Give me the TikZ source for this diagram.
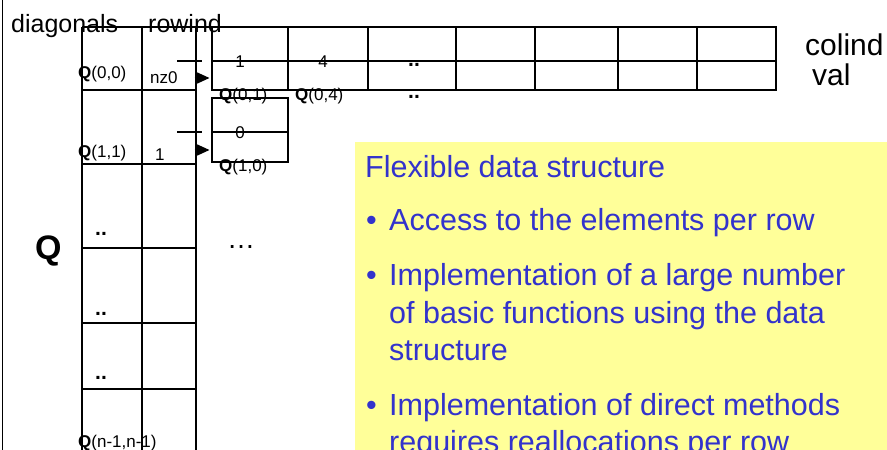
\documentclass[tikz,border=0pt]{standalone}
\usepackage{fontspec}
\setmainfont{Liberation Sans}
\usetikzlibrary{arrows.meta}
\definecolor{boxyellow}{RGB}{255,255,153}
\definecolor{boxblue}{RGB}{51,51,204}
\newcommand{\fsz}[1]{\fontsize{#1}{#1}\selectfont}
\begin{document}
\begin{tikzpicture}[x=1pt,y=-1pt,
  gridline/.style={line width=1.2pt, black},
  lab/.style={inner sep=0pt, anchor=base west},
  clab/.style={inner sep=0pt, anchor=base},
  small/.style={font=\fsz{17}},
  dots/.style={font=\fsz{21}\bfseries},
  head/.style={font=\fsz{25}},
  big/.style={font=\fsz{30}},
  boxtext/.style={inner sep=0pt, anchor=base west, font=\fsz{30.5}, text=boxblue},
  ptr/.style={line width=1.2pt, -{Triangle[length=14pt,width=12.5pt]}}]
\useasboundingbox (0,0) rectangle (887,450);
\clip (0,0) rectangle (887,450);

% yellow text box
\fill[boxyellow] (355,142) rectangle (890,455);

% left border
\draw[gridline] (2.5,-2) -- (2.5,452);

% diagonals / rowind columns
\foreach \x in {82,142,196} \draw[gridline] (\x,27) -- (\x,452);
\draw[gridline] (82,27) -- (776,27);
\foreach \y in {90,164,248,323,389} \draw[gridline] (82,\y) -- (196,\y);

% colind / val table (row 0)
\draw[gridline] (212,27) rectangle (776,90);
\draw[gridline] (212,61) -- (776,61);
\foreach \x in {288,368,456,535,618,697} \draw[gridline] (\x,27) -- (\x,90);

% row 1 box
\draw[gridline] (212,98) rectangle (288,162);
\draw[gridline] (212,132) -- (288,132);

% pointer stubs
\draw[gridline] (177,61) -- (202,61);
\draw[gridline] (177,132) -- (202,132);
\coordinate (p0) at (194.5,78);
\coordinate (b0) at (209.5,78);
\coordinate (p1) at (194.5,150);
\coordinate (b1) at (209.5,150);
\draw[ptr] (p0) -- (b0);
\draw[ptr] (p1) -- (b1);

% headers
\node[lab,head] (hdiag) at (11,32) {diagonals};
\node[lab,head] (hrow) at (148,32) {rowind};
\node[lab,big] (hcol) at (805,55) {colind};
\node[lab,big] (hval) at (812,85) {val};

% diagonal column labels
\node[lab,small] (q00) at (78,78) {\textbf{Q}(0,0)};
\node[lab,small] (nz0) at (150,83) {nz0};
\node[lab,small] (q11) at (78,157) {\textbf{Q}(1,1)};
\node[lab,small] (one) at (155,160) {1};
\node[lab,dots] (d1) at (95,235) {..};
\node[lab,dots] (d2) at (95,315) {..};
\node[lab,dots] (d3) at (95,379) {..};
\node[lab,small] (qnn) at (78,447) {\textbf{Q}(n-1,n-1)};
\node[lab,font=\fsz{34}\bfseries] (bigQ) at (35,259) {Q};
\node[clab,font=\fsz{28}] (ell) at (241,248) {…};

% row 0 entries
\node[clab,small] (c1) at (240,67) {1};
\node[clab,small] (c4) at (323,67) {4};
\node[clab,dots] (cdots) at (414,66) {..};
\node[lab,small] (q01) at (219,100) {\textbf{Q}(0,1)};
\node[lab,small] (q04) at (295,100) {\textbf{Q}(0,4)};
\node[clab,dots] (vdots) at (414,98) {..};

% row 1 entries
\node[clab,small] (c0) at (240,138) {0};
\node[lab,small] (q10) at (219,171) {\textbf{Q}(1,0)};

% text box contents
\node[boxtext] (t0) at (365,177) {Flexible data structure};
\node[boxtext] (b1a) at (366,230) {•};
\node[boxtext] (t1) at (389,230) {Access to the elements per row};
\node[boxtext] (b2a) at (366,285) {•};
\node[boxtext] (t2a) at (389,285) {Implementation of a large number};
\node[boxtext] (t2b) at (389,323) {of basic functions using the data};
\node[boxtext] (t2c) at (389,360) {structure};
\node[boxtext] (b3a) at (366,415) {•};
\node[boxtext] (t3a) at (389,415) {Implementation of direct methods};
\node[boxtext] (t3b) at (389,452) {requires reallocations per row};
\end{tikzpicture}
\end{document}
